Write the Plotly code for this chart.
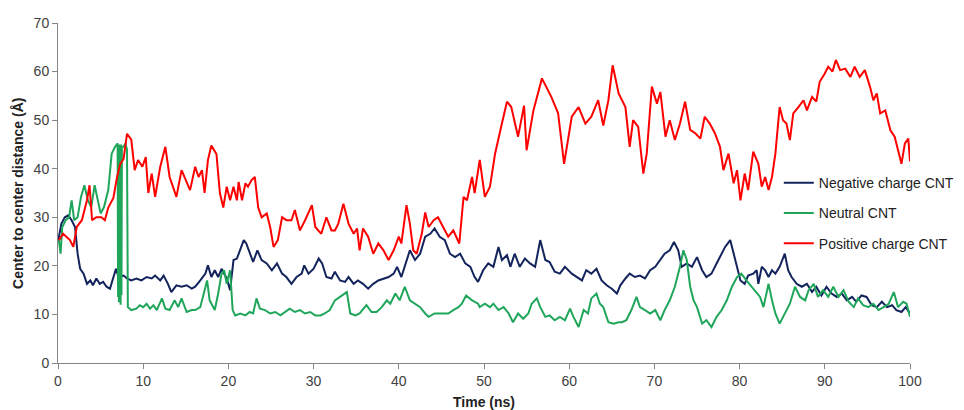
import plotly.graph_objects as go

# ---- data ----
pos_time = [0.1,0.6,1.4,1.8,2.2,2.8,3.4,3.7,4.0,4.5,5.1,5.5,5.9,6.5,6.9,7.3,7.7,8.1,8.6,9.0,
            9.4,9.9,10.3,10.6,11.0,11.4,12.0,12.6,13.1,13.9,14.5,15.1,15.5,16.1,16.5,16.9,17.2,17.6,18.0,18.6,
            19.0,19.4,19.8,20.2,20.6,21.0,21.2,21.6,22.0,22.3,22.7,23.1,23.5,23.9,24.5,24.9,25.3,25.8,26.3,26.8,
            27.4,27.8,28.4,29.0,29.8,30.2,30.9,31.5,32.1,32.5,32.9,33.5,34.1,34.7,35.1,35.4,35.8,36.4,37.0,37.6,
            38.2,38.8,39.4,40.0,40.3,40.9,41.3,41.7,42.1,42.7,43.1,43.5,44.1,44.6,45.2,45.8,46.4,47.1,47.6,48.0,
            48.6,48.9,49.5,50.1,50.7,51.3,52.1,52.7,53.2,54.0,54.7,55.0,55.8,56.8,57.9,58.7,59.4,60.3,61.1,61.9,
            62.6,63.4,64.0,64.6,65.1,65.8,66.6,67.1,67.5,68.1,68.7,69.1,69.7,70.3,70.7,71.3,71.8,72.4,73.0,73.6,
            74.2,74.8,75.4,75.9,76.5,77.1,77.7,78.1,78.7,79.3,79.7,80.1,80.6,81.0,81.6,82.2,82.6,83.0,83.4,83.8,
            84.2,84.7,85.1,85.5,85.9,86.3,86.9,87.5,87.9,88.5,89.0,89.4,90.0,90.4,90.9,91.3,91.8,92.4,93.0,93.5,
            94.1,94.7,95.3,95.7,96.1,96.5,97.1,97.7,98.2,98.4,99.0,99.4,99.8,100.0]
pos_val = [25.3,26.6,25.3,23.9,28.0,29.4,33.5,36.6,29.4,30.0,30.0,29.4,32.0,34.0,38.0,41.0,42.0,47.2,46.0,39.7,
           41.8,40.4,42.4,35.0,39.0,34.2,40.4,44.5,38.3,34.2,39.7,37.0,35.6,40.4,38.3,39.7,35.0,41.8,44.8,43.0,
           35.0,32.0,36.3,33.5,36.3,33.5,37.3,33.5,37.0,36.3,37.6,38.3,32.0,30.0,30.8,28.0,23.9,25.3,30.0,29.4,
           29.4,31.5,27.3,29.4,32.5,28.0,26.6,30.0,27.3,27.3,28.7,32.8,28.7,26.6,27.7,23.2,27.7,26.0,22.5,24.6,
           23.2,21.2,23.2,26.0,24.6,32.5,28.7,23.2,22.5,26.6,31.0,28.0,29.4,30.0,28.0,26.0,27.3,24.6,34.2,33.5,
           38.3,35.0,41.8,34.2,36.3,43.1,49.3,53.8,52.7,46.6,53.0,43.8,52.0,58.6,54.8,51.4,41.0,50.7,52.7,49.3,
           50.7,54.1,48.9,54.1,61.3,55.5,52.7,44.5,50.0,48.6,39.0,43.1,56.9,53.4,55.8,46.6,50.0,45.9,49.3,53.8,
           48.0,47.3,46.2,50.7,49.3,47.3,44.5,39.7,43.1,37.0,39.7,33.5,39.0,35.6,43.5,41.0,36.3,38.3,35.6,38.3,
           43.1,52.7,50.0,49.3,45.9,51.4,52.7,54.1,52.0,54.8,53.8,57.9,59.6,61.0,60.0,62.4,60.3,60.6,58.9,61.0,
           58.9,60.3,56.9,54.1,55.5,51.4,52.0,47.9,46.6,45.2,41.0,45.2,46.2,41.5]

neg_time = [0.0,0.4,0.8,1.2,1.6,2.0,2.3,2.6,3.0,3.4,3.8,4.1,4.5,4.9,5.3,5.7,6.1,6.5,6.8,7.1,
            7.7,8.1,8.6,9.2,9.8,10.4,11.0,11.4,12.0,12.4,12.9,13.3,13.9,14.5,15.1,15.7,16.1,16.7,17.3,17.6,
            18.0,18.4,18.8,19.2,19.8,20.2,20.6,21.0,21.4,21.8,22.1,22.5,22.9,23.4,23.9,24.5,25.1,25.7,26.3,26.8,
            27.4,28.0,28.6,28.9,29.4,30.0,30.6,31.0,31.5,32.1,32.5,33.1,33.7,34.1,34.7,35.2,35.8,36.4,37.0,37.6,
            38.2,38.8,39.4,39.8,40.3,40.7,41.3,41.9,42.5,43.1,43.7,44.2,44.8,45.4,46.0,46.6,47.2,47.8,48.4,48.9,
            49.3,49.9,50.5,51.1,51.7,52.1,52.7,53.1,53.6,54.2,54.8,55.4,56.0,56.6,57.2,57.7,58.3,58.9,59.5,60.3,
            60.9,61.5,62.0,62.6,63.2,63.8,64.4,65.0,65.6,66.0,66.6,67.1,67.7,68.3,68.9,69.5,70.1,70.7,71.2,71.8,
            72.3,72.8,73.2,73.8,74.4,75.0,75.6,76.1,76.7,77.3,77.9,78.3,78.9,79.3,79.7,80.1,80.6,81.0,81.6,82.0,
            82.2,82.6,83.0,83.4,83.8,84.2,84.7,85.3,85.7,86.1,86.7,87.3,87.9,88.5,89.0,89.6,90.2,90.8,91.4,92.0,
            92.6,93.2,93.7,94.3,94.9,95.5,96.1,96.7,97.3,97.9,98.4,99.0,99.5,100.0]
neg_val = [25.0,28.7,30.0,30.4,29.4,28.0,22.5,19.4,18.4,16.3,17.0,16.0,17.4,16.3,16.7,15.7,15.3,17.7,19.4,17.7,
           18.0,17.4,17.0,17.4,17.0,17.7,17.4,18.0,17.0,18.0,16.3,14.6,16.0,15.7,16.0,15.3,15.7,17.0,18.4,20.1,
           17.7,19.1,17.7,19.4,17.4,15.0,21.2,21.5,23.2,25.3,24.6,22.5,20.8,23.2,21.2,20.5,19.1,20.5,18.4,17.7,
           16.3,17.7,18.4,20.1,18.4,19.4,21.5,20.5,17.7,17.4,18.8,17.0,16.7,17.7,16.3,17.0,16.3,15.3,16.3,17.0,
           17.4,17.7,18.4,19.8,17.7,20.1,23.2,21.2,22.5,26.0,26.6,27.7,26.0,25.3,22.5,21.8,22.5,20.5,19.8,17.7,
           16.7,19.1,20.5,19.8,23.9,21.2,22.2,19.8,22.5,19.8,21.5,20.5,19.8,25.3,21.2,20.8,18.8,18.4,19.8,18.4,
           17.7,17.0,19.1,18.4,19.4,17.0,16.0,15.3,14.3,16.0,17.4,18.4,17.7,18.0,17.4,19.1,19.8,21.2,22.5,23.2,
           24.9,23.2,19.8,20.5,19.8,21.8,19.1,17.7,18.4,20.5,22.5,23.9,25.3,22.5,19.8,17.0,16.3,18.0,18.4,19.1,
           16.3,19.8,19.1,17.7,19.1,18.4,19.8,22.5,19.1,17.7,16.3,15.7,16.3,14.6,15.7,13.9,15.7,14.3,13.6,14.3,
           12.9,13.6,12.6,13.9,13.6,11.9,11.5,12.6,11.5,11.9,10.9,10.5,11.5,10.2]

neu_time = [0.1,0.3,0.5,0.9,1.3,1.6,1.9,2.3,2.7,3.1,3.5,3.9,4.3,4.7,5.0,5.4,5.9,6.3,6.7,7.0,
            7.05,7.1,7.15,7.2,7.25,7.3,7.35,7.4,7.45,7.5,7.7,7.9,8.1,8.2,8.6,9.2,9.6,10.0,10.4,10.8,
            11.2,11.6,12.2,12.6,13.1,13.7,14.1,14.5,15.1,15.7,16.1,16.7,17.1,17.5,17.8,18.4,18.8,19.2,19.5,19.8,
            20.2,20.5,20.8,21.4,22.0,22.5,22.9,23.3,23.7,24.3,24.9,25.5,26.1,26.6,27.2,27.8,28.4,29.0,29.6,30.2,
            30.8,31.3,31.9,32.5,33.1,33.9,34.3,34.9,35.4,36.2,36.8,37.4,38.0,38.6,39.0,39.6,40.1,40.7,41.3,41.9,
            42.5,43.1,43.5,44.2,45.0,45.8,46.4,47.0,47.4,47.9,48.6,49.3,49.5,50.1,50.7,51.1,51.7,52.3,52.9,53.4,
            54.0,54.6,55.2,55.6,56.2,56.6,57.2,57.7,58.3,58.9,59.5,60.1,60.5,61.1,61.7,62.2,62.6,63.2,63.6,64.0,
            64.6,65.2,65.8,66.2,66.7,67.3,67.9,68.3,68.9,69.5,70.1,70.7,71.2,71.8,72.4,73.0,73.4,73.8,74.2,74.6,
            75.0,75.6,76.1,76.7,77.3,77.9,78.5,79.1,79.7,80.2,80.8,81.4,82.0,82.4,82.8,83.4,83.8,84.2,84.7,85.3,
            85.9,86.5,87.1,87.7,88.1,88.7,89.2,89.8,90.4,91.0,91.6,92.2,92.8,93.4,93.9,94.5,95.1,95.7,96.3,96.9,
            97.5,98.1,98.6,99.2,99.6,100.0]
neu_val = [25.3,22.5,28.0,29.4,30.0,33.5,29.4,30.0,34.2,36.6,33.5,32.1,36.6,33.5,30.8,32.1,35.6,43.1,44.5,45.2,
           13.6,44.0,12.5,45.0,14.0,44.0,12.0,45.0,14.0,44.5,44.5,45.2,44.0,11.5,10.9,11.2,11.9,11.5,12.2,11.2,
           11.9,10.9,13.3,11.2,10.9,12.9,11.5,13.3,10.5,10.9,10.9,11.5,14.3,17.0,12.9,10.9,14.3,18.4,19.1,16.3,
           19.1,10.9,9.8,10.2,9.8,10.5,10.2,13.3,11.2,10.9,10.2,10.5,9.8,10.5,11.2,10.5,10.9,10.2,10.5,9.8,
           9.8,10.2,10.9,12.9,13.6,14.6,10.2,9.8,10.2,11.9,10.5,10.5,11.5,12.9,12.2,14.3,12.9,15.7,12.9,12.2,
           11.5,10.2,9.5,10.2,10.2,10.2,10.9,11.5,12.2,13.9,12.9,12.2,11.5,12.2,11.5,12.2,10.9,11.5,10.2,8.4,
           10.2,9.1,10.2,12.2,13.3,11.5,9.5,9.8,8.8,9.5,8.8,11.2,9.5,7.4,10.9,10.2,13.3,14.3,12.2,11.5,
           8.4,8.1,8.4,8.4,8.8,10.9,13.6,11.5,10.9,10.2,10.9,8.8,10.9,12.9,15.7,19.8,23.2,21.2,15.7,12.9,
           11.5,8.1,8.8,7.4,9.5,10.9,12.9,15.7,17.7,18.4,17.0,15.7,14.3,13.6,11.5,16.3,12.9,10.2,8.1,10.2,
           12.2,15.7,13.6,12.9,15.0,16.3,13.6,15.0,13.6,15.7,13.6,15.0,12.6,11.5,13.3,11.9,11.5,12.2,10.9,11.5,
           12.2,14.6,11.5,12.6,12.2,9.5]

series_names = ["Negative charge CNT", "Neutral CNT", "Positive charge CNT"]
x_ticks = [0, 10, 20, 30, 40, 50, 60, 70, 80, 90, 100]
y_ticks = [0, 10, 20, 30, 40, 50, 60, 70]

colors = ["#13235c", "#1fa65a", "#ff0000"]
font_family = "Liberation Sans, Arial, sans-serif"

fig = go.Figure()
for name, t, v, c in zip(series_names,
                         [neg_time, neu_time, pos_time],
                         [neg_val, neu_val, pos_val], colors):
    fig.add_trace(go.Scatter(x=t, y=v, mode="lines", name=name,
                             legendgroup=name,
                             line=dict(color=c, width=2)))

axis_common = dict(showline=True, linecolor="#868686", linewidth=1,
                   ticks="outside", ticklen=5, tickcolor="#868686",
                   showgrid=False, zeroline=False,
                   tickfont=dict(family=font_family, size=14, color="#404040"))

fig.update_layout(
    width=964, height=410,
    margin=dict(l=58, r=54, t=23, b=47, autoexpand=False),
    paper_bgcolor="white", plot_bgcolor="white",
    font=dict(family=font_family, size=14, color="#222222"),
    xaxis=dict(range=[0, 100], tickvals=x_ticks, automargin=False, **axis_common),
    yaxis=dict(range=[0, 70], tickvals=y_ticks, automargin=False, **axis_common),
    showlegend=True,
    legend=dict(x=0.846, y=0.576, xanchor="left", yanchor="top",
                bgcolor="rgba(0,0,0,0)", borderwidth=0,
                tracegroupgap=9,
                font=dict(family=font_family, size=14, color="#222222")),
    annotations=[
        dict(text="<b>Time (ns)</b>", xref="paper", yref="paper",
             x=0.5, y=-0.116, xanchor="center", yanchor="middle",
             showarrow=False, font=dict(family=font_family, size=14, color="#222222")),
        dict(text="<b>Center to center distance (Å)</b>", xref="paper", yref="paper",
             x=-0.047, y=0.5, xanchor="center", yanchor="middle", textangle=-90,
             showarrow=False, font=dict(family=font_family, size=14, color="#222222")),
    ],
)

fig.write_html("out.html")
